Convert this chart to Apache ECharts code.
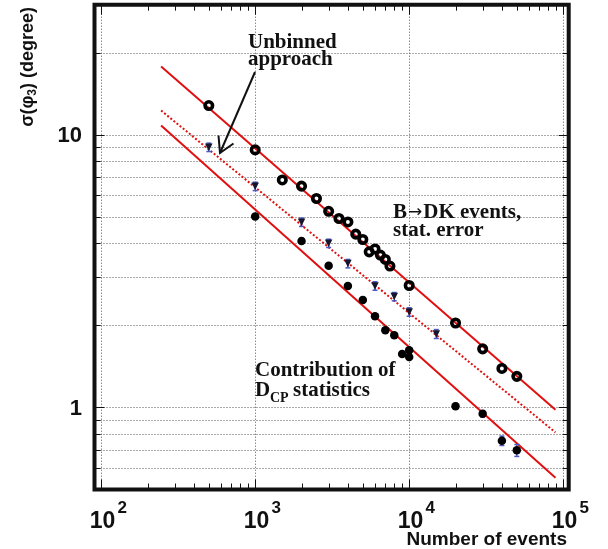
<!DOCTYPE html>
<html>
<head>
<meta charset="utf-8">
<script src="https://cdn.jsdelivr.net/npm/echarts@6/dist/echarts.min.js"></script>
<style>
html, body { margin: 0; padding: 0; background: #fff; }
#main { width: 608px; height: 549px; }
</style>
</head>
<body>
<div id="main"></div>
<script>
// open circles: B->DK events, stat. error (unbinned approach)
var circN = [500, 1000, 1500, 2000, 2500, 3000, 3500, 4000, 4500, 5000, 5500, 6000, 6500, 7000, 7500, 10000, 20000, 30000, 40000, 50000];
var circSigma = [12.8, 8.8, 6.83, 6.48, 5.84, 5.24, 4.93, 4.79, 4.32, 4.13, 3.72, 3.81, 3.62, 3.49, 3.30, 2.80, 2.04, 1.64, 1.39, 1.30];

// triangles (binned)
var triN = [500, 1000, 2000, 3000, 4000, 6000, 8000, 10000, 15000];
var triSigma = [9.0, 6.47, 4.78, 4.0, 3.37, 2.79, 2.55, 2.24, 1.86];
var triErr = [0.32, 0.23, 0.17, 0.14, 0.12, 0.10, 0.09, 0.08, 0.07];

// dots: contribution of D_CP statistics
var dotN = [1000, 2000, 3000, 4000, 5000, 6000, 7000, 8000, 9000, 10000, 10000, 20000, 30000, 40000, 50000];
var dotSigma = [5.02, 4.08, 3.31, 2.79, 2.48, 2.16, 1.92, 1.84, 1.57, 1.62, 1.53, 1.01, 0.948, 0.755, 0.696];
var dotErr = [0.10, 0.08, 0.06, 0.05, 0.05, 0.04, 0.04, 0.04, 0.03, 0.03, 0.03, 0.025, 0.025, 0.03, 0.035];

// fitted lines, end points
var fitN = [245, 89100];
var fitTop = [17.8, 0.981];
var fitMid = [12.27, 0.81];
var fitLow = [10.81, 0.552];

// axes
var xRange = [90.5, 108600];
var yRange = [0.5, 30];
var xGrid = [100, 1000, 10000, 100000];
var xMinor = [200, 300, 400, 500, 600, 700, 800, 900,
              2000, 3000, 4000, 5000, 6000, 7000, 8000, 9000,
              20000, 30000, 40000, 50000, 60000, 70000, 80000, 90000];
var yGrid = [0.6, 0.7, 0.8, 0.9, 1, 2, 3, 4, 5, 6, 7, 8, 9, 10, 20];
var yLabels = [1, 10];

var ink = '#111';
var sans = '"Liberation Sans", Arial, sans-serif';
var serif = '"Liberation Serif", "Times New Roman", serif';

function pairs(xs, ys) {
    return xs.map(function (x, i) { return [x, ys[i]]; });
}
function triples(xs, ys, es) {
    return xs.map(function (x, i) { return [x, ys[i], es[i]]; });
}

function renderGrid(params, api) {
    if (params.dataIndex !== 0) return;
    var cs = params.coordSys;
    var x0 = cs.x, x1 = cs.x + cs.width, y0 = cs.y, y1 = cs.y + cs.height;
    var kids = [];
    xGrid.forEach(function (v) {
        var px = Math.round(api.coord([v, 1])[0]) + 0.5;
        kids.push({ type: 'line', shape: { x1: px, y1: y0, x2: px, y2: y1 },
            style: { stroke: '#555', lineWidth: 1, lineDash: [1, 2] } });
    });
    yGrid.forEach(function (v) {
        var py = Math.round(api.coord([1000, v])[1]) + 0.5;
        kids.push({ type: 'line', shape: { x1: x0, y1: py, x2: x1, y2: py },
            style: { stroke: '#555', lineWidth: 1, lineDash: [1, 2] } });
    });
    return { type: 'group', children: kids };
}

function renderFrame(params, api) {
    if (params.dataIndex !== 0) return;
    var cs = params.coordSys;
    var x0 = cs.x, x1 = cs.x + cs.width, y0 = cs.y, y1 = cs.y + cs.height;
    var kids = [];
    function seg(a, b, c, d) {
        kids.push({ type: 'line', shape: { x1: a, y1: b, x2: c, y2: d }, style: { stroke: ink, lineWidth: 1 } });
    }
    function txt(str, x, y, size, align) {
        kids.push({ type: 'text', style: { text: str, x: x, y: y, fill: ink,
            fontSize: size, fontWeight: 'bold', fontFamily: sans, align: align, verticalAlign: 'middle' } });
    }
    xGrid.forEach(function (v) {
        var px = Math.round(api.coord([v, 1])[0]) + 0.5;
        seg(px, y1, px, y1 - 10);
        seg(px, y0, px, y0 + 10);
        txt('10', px + 1, y1 + 32, 23, 'center');
        txt(String(Math.round(Math.log10(v))), px + 16, y1 + 18.5, 17, 'left');
    });
    xMinor.forEach(function (v) {
        var px = Math.round(api.coord([v, 1])[0]) + 0.5;
        seg(px, y1, px, y1 - 6);
        seg(px, y0, px, y0 + 6);
    });
    yGrid.forEach(function (v) {
        var py = Math.round(api.coord([1000, v])[1]) + 0.5;
        var len = yLabels.indexOf(v) >= 0 ? 10 : 6;
        seg(x0, py, x0 + len, py);
        seg(x1, py, x1 - len, py);
    });
    yLabels.forEach(function (v) {
        var py = api.coord([1000, v])[1];
        txt(String(v), x0 - 12.5, py + 1.5, 22, 'right');
    });
    kids.push({ type: 'rect', shape: { x: x0, y: y0, width: cs.width, height: cs.height },
        style: { fill: 'none', stroke: ink, lineWidth: 4 } });
    return { type: 'group', children: kids };
}

function renderErr(params, api) {
    var n = api.value(0), s = api.value(1), e = api.value(2);
    var hi = api.coord([n, s + e]);
    var lo = api.coord([n, s - e]);
    var st = { stroke: '#4a58c0', lineWidth: 1.5 };
    return { type: 'group', children: [
        { type: 'line', shape: { x1: hi[0], y1: hi[1], x2: lo[0], y2: lo[1] }, style: st },
        { type: 'line', shape: { x1: hi[0] - 2.5, y1: hi[1], x2: hi[0] + 2.5, y2: hi[1] }, style: st },
        { type: 'line', shape: { x1: lo[0] - 2.5, y1: lo[1], x2: lo[0] + 2.5, y2: lo[1] }, style: st }
    ] };
}

function label(str, x, baseline, size) {
    return { type: 'text', z: 100, style: { text: str, x: x, y: baseline - 0.3375 * size,
        fill: ink, font: 'bold ' + size + 'px ' + serif, verticalAlign: 'middle' } };
}

var chart = echarts.init(document.getElementById('main'));
chart.setOption({
    animation: false,
    grid: { left: 94.5, right: 39.3, top: 4.7, bottom: 59.5 },
    xAxis: {
        type: 'log', logBase: 10, min: xRange[0], max: xRange[1],
        axisLine: { show: false }, axisTick: { show: false }, axisLabel: { show: false }, splitLine: { show: false }
    },
    yAxis: {
        type: 'log', logBase: 10, min: yRange[0], max: yRange[1],
        axisLine: { show: false }, axisTick: { show: false }, axisLabel: { show: false }, splitLine: { show: false }
    },
    series: [
        { type: 'custom', name: 'grid', z: 1, silent: true, renderItem: renderGrid, data: [[1000, 1]] },
        { type: 'line', name: 'fit top', z: 3, symbol: 'none', silent: true,
          lineStyle: { color: '#e01010', width: 2 }, data: pairs(fitN, fitTop) },
        { type: 'line', name: 'fit mid', z: 3, symbol: 'none', silent: true,
          lineStyle: { color: '#e01010', width: 2, type: [2, 2] }, data: pairs(fitN, fitMid) },
        { type: 'line', name: 'fit low', z: 3, symbol: 'none', silent: true,
          lineStyle: { color: '#e01010', width: 2 }, data: pairs(fitN, fitLow) },
        { type: 'custom', name: 'tri err', z: 4, silent: true, renderItem: renderErr,
          encode: { x: 0, y: 1 }, data: triples(triN, triSigma, triErr) },
        { type: 'custom', name: 'dot err', z: 4, silent: true, renderItem: renderErr,
          encode: { x: 0, y: 1 }, data: triples(dotN, dotSigma, dotErr) },
        { type: 'scatter', name: 'unbinned', z: 5, symbol: 'circle', symbolSize: 7.5,
          itemStyle: { color: 'rgba(0,0,0,0)', borderColor: '#000', borderWidth: 3.6, opacity: 1 },
          data: pairs(circN, circSigma) },
        { type: 'scatter', name: 'binned', z: 5, symbol: 'triangle', symbolRotate: 180, symbolSize: 7.5,
          itemStyle: { color: '#15152e', opacity: 1 }, data: pairs(triN, triSigma) },
        { type: 'scatter', name: 'D_CP', z: 5, symbol: 'circle', symbolSize: 8.5,
          itemStyle: { color: '#000', opacity: 1 }, data: pairs(dotN, dotSigma) },
        { type: 'custom', name: 'frame', z: 10, silent: true, renderItem: renderFrame, data: [[1000, 1]] }
    ],
    graphic: [
        label('Unbinned', 248, 50, 21),
        label('approach', 248, 66.7, 21),
        { type: 'text', z: 100, style: { text: '{a|B}{r|\u2192}{a|DK events,}', x: 393, y: 220 - 7.1,
          verticalAlign: 'middle', fill: ink,
          rich: { a: { fontSize: 21, fontWeight: 'bold', fontFamily: serif, fill: ink },
                  r: { fontSize: 17, fontFamily: '"DejaVu Sans", sans-serif', fill: ink, padding: [0, 1, 0, 1] } } } },
        label('stat. error', 393, 237.3, 21),
        label('Contribution of', 255, 377.3, 21),
        label('D', 255, 397.3, 21),
        label('CP', 270, 403, 14),
        label('statistics', 293, 397.3, 21),
        { type: 'line', z: 100, shape: { x1: 255, y1: 72, x2: 220, y2: 153 },
          style: { stroke: ink, lineWidth: 2 } },
        { type: 'polyline', z: 100, shape: { points: [[218.5, 135.5], [220, 153], [233.5, 143.5]] },
          style: { stroke: ink, lineWidth: 2, fill: 'none' } },
        { type: 'text', z: 100, x: 28, y: 7, rotation: Math.PI / 2,
          style: { text: '{a|\u03c3(\u03c6}{s|3}{a|) (degree)}', align: 'right', verticalAlign: 'middle',
                   fill: ink,
                   rich: { a: { fontSize: 18, fontWeight: 'bold', fontFamily: sans, fill: ink, lineHeight: 21 },
                           s: { fontSize: 12, fontWeight: 'bold', fontFamily: sans, fill: ink, verticalAlign: 'bottom', lineHeight: 14 } } } },
        { type: 'text', z: 100, style: { text: 'Number of events', x: 567, y: 540.1, align: 'right', verticalAlign: 'middle',
          fill: ink, font: 'bold 19px ' + sans } }
    ]
});
</script>
</body>
</html>
